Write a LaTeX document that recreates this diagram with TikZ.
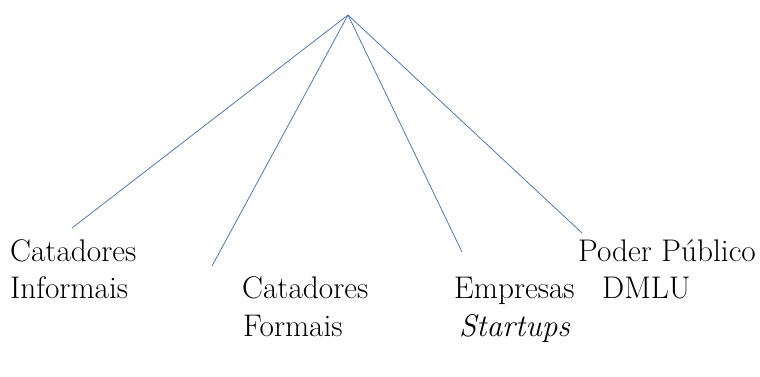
\documentclass[tikz,border=0pt]{standalone}
\usepackage{fontspec}
\definecolor{linkblue}{HTML}{4472C4}
\begin{document}
\begin{tikzpicture}[x=1pt,y=-1pt,
  lbl/.style={anchor=base west, inner sep=0pt, font=\fontsize{31.3}{37}\selectfont},
  link/.style={draw=linkblue, line width=0.75pt}]
\useasboundingbox (0,0) rectangle (760,376);
\coordinate (apex) at (348,15);
\coordinate (e1) at (72,228);
\coordinate (e2) at (212,266);
\coordinate (e3) at (462,252);
\coordinate (e4) at (582,233);
\node[lbl] (ci1) at (10,261) {Catadores};
\node[lbl] (ci2) at (10,298) {Informais};
\node[lbl] (cf1) at (242,298) {Catadores};
\node[lbl] (cf2) at (243,336) {Formais};
\node[lbl] (em1) at (454,298) {Empresas};
\node[lbl] (em2) at (459,336) {\itshape Startups};
\node[lbl] (pp1) at (578,261) {Poder Público};
\node[lbl] (pp2) at (602,298) {DMLU};
\draw[link] (apex) -- (e1);
\draw[link] (apex) -- (e2);
\draw[link] (apex) -- (e3);
\draw[link] (apex) -- (e4);
\end{tikzpicture}
\end{document}
